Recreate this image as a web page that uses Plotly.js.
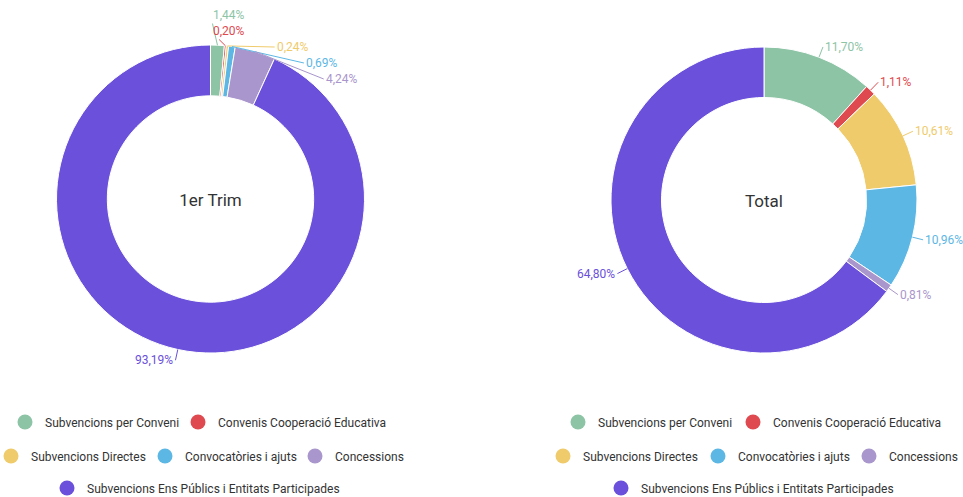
<!DOCTYPE html>
<html>
<head>
<meta charset="utf-8">
<script src="https://cdn.plot.ly/plotly-3.0.1.min.js"></script>
<style>html,body{margin:0;padding:0;background:#fff;}#chart{width:963px;height:497px;}</style>
</head>
<body>
<div id="chart"></div>
<script>
const categories = ['Subvencions per Conveni','Convenis Cooperació Educativa','Subvencions Directes','Convocatòries i ajuts','Concessions','Subvencions Ens Públics i Entitats Participades'];
const trimValues = [1.44, 0.20, 0.24, 0.69, 4.24, 93.19];
const totalValues = [11.70, 1.11, 10.61, 10.96, 0.81, 64.80];
const colors = ['#8DC4A6','#DE4A4F','#EFCB6B','#5DB7E5','#A996CC','#6A50DB'];
const chartTitles = ['1er Trim','Total'];

const W = 963, H = 497;
const FONT = 'Roboto, "Open Sans", sans-serif';
// donut geometry (pixels)
const centers = [{x:210.5, y:199, r:154}, {x:764, y:200, r:153}];
// legend layout: per chart, rows of [category index, text start x], row y
const legendRowY = [422, 456, 488];
const legendLayout = [
  [[[0, 45], [1, 218]], [[2, 31], [3, 185], [4, 335]], [[5, 87]]],
  [[[0, 598], [1, 773]], [[2, 583], [3, 738], [4, 889]], [[5, 641]]]
];
const LEG_TEXT_OFFSET = 40;

function pieTrace(values, idx) {
  const c = centers[idx];
  return {
    type: 'pie',
    labels: categories,
    values: values,
    sort: false,
    direction: 'clockwise',
    rotation: 0,
    hole: 0.67,
    marker: {colors: colors, line: {color: '#ffffff', width: 1}},
    textinfo: 'none',
    showlegend: false,
    title: {text: chartTitles[idx], position: 'middle center', font: {size: 17, color: '#333333', family: FONT}},
    domain: {x: [(c.x - c.r)/W, (c.x + c.r)/W], y: [1 - (c.y + c.r)/H, 1 - (c.y - c.r)/H]},
    hoverinfo: 'label+percent'
  };
}

function fmt(v) { return v.toFixed(2).replace('.', ',') + '%'; }

// outside labels with leader lines, placed around each donut and de-overlapped
function labelAnnotations(values, idx) {
  const c = centers[idx];
  const R = c.r + 11, GAP = 16, MINY = 15, MAXY = H - 15;
  const total = values.reduce((a, b) => a + b, 0);
  let cum = 0;
  const items = values.map(function(v, k) {
    const th = 2 * Math.PI * (cum + v / 2) / total;
    cum += v;
    return {k: k, v: v, th: th, side: Math.sin(th) >= 0 ? 1 : -1,
            px: c.x + c.r * Math.sin(th), py: c.y - c.r * Math.cos(th),
            y0: c.y - R * Math.cos(th)};
  });
  [1, -1].forEach(function(side) {
    const its = items.filter(it => it.side === side).sort((a, b) => a.y0 - b.y0);
    let clusters = its.map(it => ({items: [it]}));
    function place(cl) {
      const mean = cl.items.reduce((s, it) => s + it.y0, 0) / cl.items.length;
      let top = mean - (cl.items.length - 1) * GAP / 2;
      top = Math.max(MINY, Math.min(top, MAXY - (cl.items.length - 1) * GAP));
      cl.top = top;
    }
    clusters.forEach(place);
    let merged = true;
    while (merged) {
      merged = false;
      for (let i = 0; i < clusters.length - 1; i++) {
        const a = clusters[i], b = clusters[i + 1];
        if (a.top + a.items.length * GAP > b.top) {
          a.items = a.items.concat(b.items);
          clusters.splice(i + 1, 1);
          place(a);
          merged = true;
          break;
        }
      }
    }
    clusters.forEach(function(cl) {
      cl.items.forEach(function(it, j) { it.ly = cl.top + j * GAP; });
    });
  });
  return items.map(function(it) {
    const dy = it.ly - c.y;
    const lx = c.x + it.side * Math.sqrt(Math.max(0, R * R - dy * dy));
    return {
      xref: 'paper', yref: 'paper',
      x: it.px / W, y: 1 - it.py / H,
      ax: lx - it.px, ay: it.ly - it.py,
      xanchor: it.side > 0 ? 'left' : 'right', yanchor: 'middle',
      text: fmt(it.v),
      font: {size: 12, color: colors[it.k], family: FONT},
      showarrow: true, arrowhead: 0, arrowwidth: 1, arrowcolor: colors[it.k],
      standoff: 0, startstandoff: 0, borderpad: 1
    };
  });
}

const traces = [pieTrace(trimValues, 0), pieTrace(totalValues, 1)];
const layout = {
  width: W, height: H,
  margin: {l: 0, r: 0, t: 0, b: 0, autoexpand: false},
  paper_bgcolor: '#ffffff', plot_bgcolor: 'rgba(0,0,0,0)',
  separators: ',.',
  font: {family: FONT, size: 12, color: '#333333'},
  xaxis: {visible: false, fixedrange: true}, yaxis: {visible: false, fixedrange: true},
  showlegend: true,
  annotations: labelAnnotations(trimValues, 0).concat(labelAnnotations(totalValues, 1))
};

let legendCount = 0;
legendLayout.forEach(function(rows) {
  rows.forEach(function(row, ri) {
    row.forEach(function(entry) {
      legendCount++;
      const key = legendCount === 1 ? 'legend' : 'legend' + legendCount;
      const k = entry[0];
      layout[key] = {
        orientation: 'h', x: (entry[1] - LEG_TEXT_OFFSET) / W, xanchor: 'left',
        y: 1 - legendRowY[ri] / H, yanchor: 'middle',
        bgcolor: 'rgba(0,0,0,0)', borderwidth: 0,
        font: {size: 12, color: '#333333', family: FONT},
        itemclick: false, itemdoubleclick: false
      };
      traces.push({
        type: 'scatter', mode: 'markers', x: [null], y: [null],
        name: categories[k], marker: {color: colors[k], size: 15},
        showlegend: true, legend: key, hoverinfo: 'skip'
      });
    });
  });
});

Plotly.newPlot('chart', traces, layout, {displayModeBar: false, responsive: false});
</script>
</body>
</html>
